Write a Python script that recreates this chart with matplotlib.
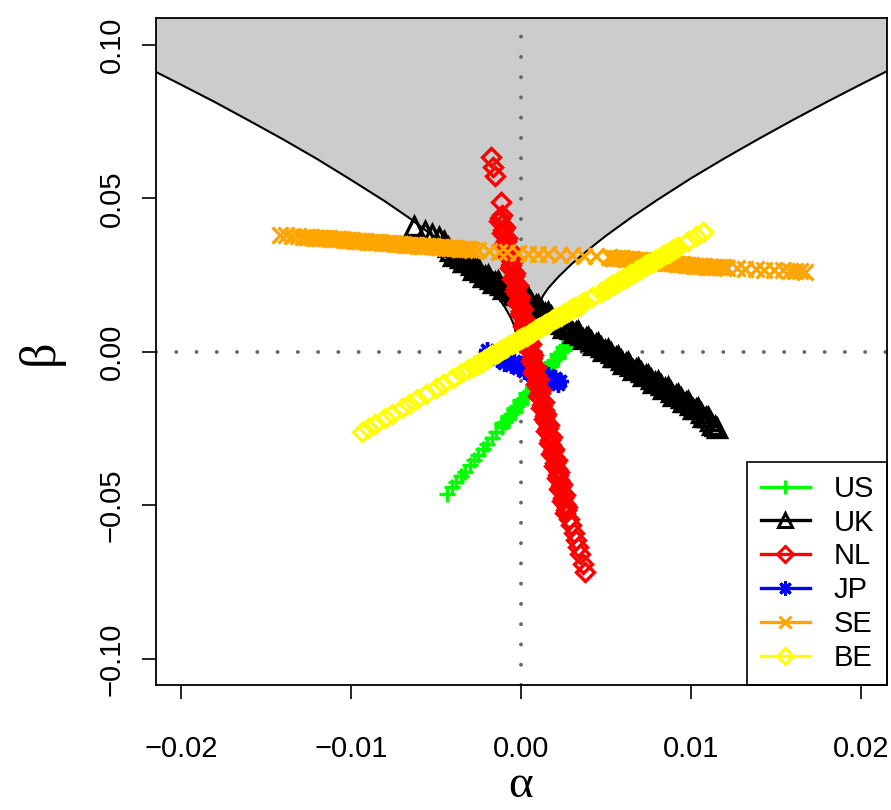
import matplotlib
matplotlib.use('Agg')
import matplotlib.pyplot as plt
from matplotlib.patches import Polygon
from matplotlib.lines import Line2D

# boundary of the shaded region (left and right branch)
left_a = [-0.0220, -0.0200, -0.0180, -0.0160, -0.0140, -0.0120, -0.0100, -0.0080, -0.0065, -0.0050,
          -0.0040, -0.0030, -0.0022, -0.0015, -0.0010, -0.0006, -0.0004, -0.0003]
left_b = [0.0926, 0.0870, 0.0813, 0.0753, 0.0692, 0.0628, 0.0560, 0.0490, 0.0433, 0.0370,
          0.0326, 0.0277, 0.0233, 0.0188, 0.0150, 0.0111, 0.0085, 0.0060]
right_a = [0.0011, 0.0013, 0.0016, 0.0022, 0.0030, 0.0040, 0.0050, 0.0065, 0.0080, 0.0100,
           0.0120, 0.0140, 0.0160, 0.0180, 0.0200, 0.0220]
right_b = [0.0160, 0.0183, 0.0207, 0.0244, 0.0287, 0.0334, 0.0378, 0.0438, 0.0494, 0.0565,
           0.0631, 0.0694, 0.0755, 0.0814, 0.0871, 0.0927]

# US
us_a = [-0.00435, -0.00403, -0.00381, -0.00352, -0.00331, -0.00302, -0.00276, -0.00251, -0.00222, -0.00200,
        -0.00171, -0.00145, -0.00110, -0.00113, -0.00074, -0.00077, -0.00038, -0.00041, -0.00002, -0.00004,
        0.00034, 0.00032, 0.00071, 0.00068, 0.00107, 0.00104, 0.00143, 0.00141, 0.00179, 0.00177,
        0.00216, 0.00213, 0.00252, 0.00249, 0.00282, 0.00280,
        -0.00112, -0.00094, -0.00076, -0.00058, -0.00040, -0.00022, -0.00003, 0.00015, 0.00033, 0.00052,
        0.00070, 0.00088, 0.00106, 0.00124, 0.00142, 0.00160, 0.00178, 0.00197, 0.00215, 0.00233,
        0.00251, 0.00267, 0.00281]
us_b = [-0.0462, -0.0440, -0.0425, -0.0405, -0.0390, -0.0370, -0.0352, -0.0335, -0.0315, -0.0300,
        -0.0280, -0.0262, -0.0245, -0.0233, -0.0220, -0.0208, -0.0195, -0.0183, -0.0170, -0.0158,
        -0.0145, -0.0133, -0.0120, -0.0108, -0.0095, -0.0083, -0.0070, -0.0058, -0.0045, -0.0033,
        -0.0020, -0.0008, 0.0005, 0.0017, 0.0028, 0.0036,
        -0.0239, -0.0227, -0.0214, -0.0202, -0.0189, -0.0177, -0.0164, -0.0152, -0.0139, -0.0127,
        -0.0114, -0.0102, -0.0089, -0.0077, -0.0064, -0.0052, -0.0039, -0.0027, -0.0014, -0.0002,
        0.0011, 0.0023, 0.0032]

# UK
uk_a = [-0.00630, -0.00565, -0.00525, -0.00485, -0.00455,
        -0.00429, -0.00400, -0.00371, -0.00341, -0.00312, -0.00282, -0.00253, -0.00224, -0.00194, -0.00165,
        -0.00135, -0.00106, -0.00076, -0.00047, -0.00018, 0.00012, 0.00041, 0.00071, 0.00100, 0.00129,
        0.00159, 0.00188, 0.00218, 0.00247, 0.00276, 0.00306, 0.00335, 0.00365, 0.00394, 0.00424,
        0.00453, 0.00482, 0.00512, 0.00541, 0.00571, 0.00600, 0.00629, 0.00659, 0.00688, 0.00718,
        0.00747, 0.00776, 0.00806, 0.00835, 0.00865, 0.00894, 0.00924, 0.00953, 0.00982, 0.01012,
        0.01041, 0.01071, 0.01100, 0.01124,
        0.01140, 0.01152,
        -0.00415, -0.00386, -0.00356, -0.00327, -0.00297, -0.00268, -0.00239, -0.00209, -0.00180, -0.00150,
        -0.00121, -0.00091, -0.00062, -0.00033, -0.00003, 0.00027, 0.00056, 0.00086, 0.00115, 0.00144,
        0.00174, 0.00203, 0.00233, 0.00262, 0.00291, 0.00321, 0.00350, 0.00380, 0.00409, 0.00439,
        0.00468, 0.00497, 0.00527, 0.00556, 0.00586, 0.00615, 0.00644, 0.00674, 0.00703, 0.00733,
        0.00762, 0.00791, 0.00821, 0.00850, 0.00880, 0.00909, 0.00939, 0.00968, 0.00997, 0.01027,
        0.01056, 0.01086, 0.01112]
uk_b = [0.0410, 0.0393, 0.0383, 0.0373, 0.0362,
        0.0340, 0.0313, 0.0318, 0.0291, 0.0296, 0.0268, 0.0273, 0.0245, 0.0250, 0.0223,
        0.0230, 0.0204, 0.0210, 0.0186, 0.0193, 0.0169, 0.0177, 0.0149, 0.0152, 0.0124,
        0.0128, 0.0101, 0.0105, 0.0078, 0.0085, 0.0060, 0.0067, 0.0041, 0.0048, 0.0022,
        0.0028, 0.0002, 0.0008, -0.0018, -0.0013, -0.0040, -0.0034, -0.0059, -0.0053, -0.0080,
        -0.0074, -0.0101, -0.0095, -0.0122, -0.0116, -0.0143, -0.0137, -0.0164, -0.0160, -0.0187,
        -0.0183, -0.0213, -0.0211, -0.0238,
        -0.0242, -0.0248,
        0.0327, 0.0316, 0.0305, 0.0294, 0.0282, 0.0271, 0.0259, 0.0248, 0.0237, 0.0227,
        0.0217, 0.0207, 0.0198, 0.0190, 0.0181, 0.0173, 0.0163, 0.0151, 0.0138, 0.0126,
        0.0115, 0.0103, 0.0092, 0.0082, 0.0073, 0.0064, 0.0054, 0.0045, 0.0035, 0.0025,
        0.0015, 0.0005, -0.0005, -0.0016, -0.0027, -0.0037, -0.0047, -0.0056, -0.0067, -0.0077,
        -0.0088, -0.0098, -0.0109, -0.0119, -0.0130, -0.0140, -0.0151, -0.0162, -0.0174, -0.0185,
        -0.0198, -0.0212, -0.0225]

# NL
nl_a = [-0.00176, -0.00163, -0.00153, -0.00120,
        -0.00113, -0.00129, -0.00097, -0.00114, -0.00082, -0.00098, -0.00066, -0.00083, -0.00051, -0.00067,
        -0.00036, -0.00052, -0.00020, -0.00037, -0.00005, -0.00021, 0.00010, -0.00006, 0.00026, 0.00009,
        0.00041, 0.00025, 0.00057, 0.00040, 0.00072, 0.00056, 0.00087, 0.00071, 0.00103, 0.00086,
        0.00118, 0.00102, 0.00134, 0.00117, 0.00149, 0.00133, 0.00164, 0.00148, 0.00180, 0.00163,
        0.00195, 0.00179, 0.00210, 0.00194, 0.00226, 0.00209, 0.00241, 0.00225, 0.00256, 0.00240,
        0.00272, 0.00256,
        0.00285, 0.00297, 0.00310, 0.00322, 0.00334, 0.00348, 0.00362, 0.00378,
        -0.00121, -0.00113, -0.00106, -0.00098, -0.00090, -0.00083, -0.00075, -0.00067, -0.00060, -0.00052,
        -0.00044, -0.00036, -0.00029, -0.00021, -0.00013, -0.00006, 0.00002, 0.00010, 0.00018, 0.00025,
        0.00033, 0.00041, 0.00048, 0.00056, 0.00064, 0.00071, 0.00079, 0.00087, 0.00094, 0.00102,
        0.00110, 0.00118, 0.00125, 0.00133, 0.00141, 0.00148, 0.00156, 0.00164, 0.00171, 0.00179,
        0.00187, 0.00195, 0.00202, 0.00210, 0.00218, 0.00225, 0.00233, 0.00241, 0.00248, 0.00256,
        0.00264]
nl_b = [0.0634, 0.0603, 0.0572, 0.0488,
        0.0445, 0.0426, 0.0407, 0.0388, 0.0369, 0.0350, 0.0331, 0.0312, 0.0293, 0.0274,
        0.0255, 0.0236, 0.0217, 0.0198, 0.0179, 0.0160, 0.0141, 0.0122, 0.0103, 0.0084,
        0.0065, 0.0046, 0.0027, 0.0008, -0.0011, -0.0030, -0.0049, -0.0068, -0.0087, -0.0106,
        -0.0125, -0.0144, -0.0163, -0.0182, -0.0201, -0.0220, -0.0239, -0.0258, -0.0277, -0.0296,
        -0.0315, -0.0334, -0.0353, -0.0372, -0.0391, -0.0410, -0.0429, -0.0448, -0.0467, -0.0486,
        -0.0505, -0.0524,
        -0.0545, -0.0565, -0.0590, -0.0612, -0.0635, -0.0660, -0.0690, -0.0718,
        0.0436, 0.0417, 0.0398, 0.0379, 0.0360, 0.0341, 0.0322, 0.0303, 0.0284, 0.0265,
        0.0246, 0.0227, 0.0208, 0.0189, 0.0170, 0.0151, 0.0132, 0.0113, 0.0094, 0.0075,
        0.0056, 0.0037, 0.0018, -0.0001, -0.0020, -0.0039, -0.0058, -0.0077, -0.0096, -0.0115,
        -0.0134, -0.0153, -0.0172, -0.0191, -0.0210, -0.0229, -0.0248, -0.0267, -0.0286, -0.0305,
        -0.0324, -0.0343, -0.0362, -0.0381, -0.0400, -0.0419, -0.0438, -0.0457, -0.0476, -0.0495,
        -0.0514]

# JP
jp_a = [-0.0020, -0.0018, -0.0016, -0.0014, -0.0012, -0.0010, -0.0008, -0.0006, -0.0004, -0.0002,
        0.0000, 0.0002, 0.0004, 0.0006, 0.0008, 0.0010, 0.0012, 0.0014, 0.0016, 0.0018,
        0.0020, 0.0022, 0.0023,
        -0.0019, -0.0017, -0.0015, -0.0013, -0.0011, -0.0009, -0.0007, -0.0005, -0.0003, -0.0001,
        0.0001, 0.0003, 0.0005, 0.0007, 0.0009, 0.0011, 0.0013, 0.0015, 0.0017, 0.0019, 0.0021]
jp_b = [0.0007, -0.0015, -0.0003, -0.0025, -0.0012, -0.0035, -0.0022, -0.0043, -0.0030, -0.0052,
        -0.0040, -0.0061, -0.0050, -0.0071, -0.0059, -0.0080, -0.0067, -0.0089, -0.0077, -0.0098,
        -0.0086, -0.0104, -0.0095,
        -0.0005, -0.0010, -0.0014, -0.0019, -0.0023, -0.0028, -0.0033, -0.0037, -0.0042, -0.0046,
        -0.0051, -0.0055, -0.0060, -0.0065, -0.0069, -0.0074, -0.0078, -0.0083, -0.0087, -0.0092, -0.0096]

# SE
se_a = [-0.01418, -0.01385, -0.01345, -0.01310,
        -0.01280, -0.01250, -0.01220, -0.01190, -0.01160, -0.01130, -0.01100, -0.01070, -0.01040, -0.01010,
        -0.00980, -0.00950, -0.00920, -0.00890, -0.00860, -0.00830, -0.00800, -0.00770, -0.00740, -0.00710,
        -0.00680, -0.00650, -0.00620, -0.00590, -0.00560, -0.00530, -0.00500, -0.00470, -0.00440, -0.00410,
        -0.00380, -0.00350, -0.00320, -0.00290,
        -0.00250, -0.00190, -0.00130, -0.00080, -0.00020, 0.00040, 0.00100, 0.00160, 0.00230, 0.00300,
        0.00370, 0.00440,
        0.00520, 0.00550, 0.00580, 0.00610, 0.00640, 0.00670, 0.00700, 0.00730, 0.00760, 0.00790,
        0.00820, 0.00850, 0.00880, 0.00910, 0.00940, 0.00970, 0.01000, 0.01030, 0.01060, 0.01090,
        0.01120, 0.01150, 0.01180, 0.01210,
        0.01270, 0.01320, 0.01380, 0.01430, 0.01490, 0.01540,
        0.01580, 0.01610, 0.01640, 0.01670,
        -0.01265, -0.01235, -0.01205, -0.01175, -0.01145, -0.01115, -0.01085, -0.01055, -0.01025, -0.00995,
        -0.00965, -0.00935, -0.00905, -0.00875, -0.00845, -0.00815, -0.00785, -0.00755, -0.00725, -0.00695,
        -0.00665, -0.00635, -0.00605, -0.00575, -0.00545, -0.00515, -0.00485, -0.00455, -0.00425, -0.00395,
        -0.00365, -0.00335, -0.00305,
        0.00535, 0.00565, 0.00595, 0.00625, 0.00655, 0.00685, 0.00715, 0.00745, 0.00775, 0.00805,
        0.00835, 0.00865, 0.00895, 0.00925, 0.00955, 0.00985, 0.01015, 0.01045, 0.01075, 0.01105,
        0.01135, 0.01165, 0.01195]
se_b = [0.0381, 0.0380, 0.0377, 0.0376,
        0.0375, 0.0374, 0.0372, 0.0371, 0.0370, 0.0369, 0.0367, 0.0366, 0.0365, 0.0363,
        0.0362, 0.0361, 0.0360, 0.0358, 0.0357, 0.0356, 0.0354, 0.0353, 0.0352, 0.0350,
        0.0349, 0.0348, 0.0347, 0.0345, 0.0344, 0.0343, 0.0342, 0.0340, 0.0339, 0.0338,
        0.0337, 0.0335, 0.0334, 0.0333,
        0.0331, 0.0329, 0.0326, 0.0324, 0.0322, 0.0320, 0.0319, 0.0318, 0.0316, 0.0314,
        0.0313, 0.0311,
        0.0308, 0.0306, 0.0305, 0.0303, 0.0301, 0.0300, 0.0298, 0.0297, 0.0295, 0.0293,
        0.0292, 0.0290, 0.0288, 0.0287, 0.0285, 0.0284, 0.0282, 0.0280, 0.0279, 0.0277,
        0.0276, 0.0276, 0.0275, 0.0274,
        0.0272, 0.0271, 0.0269, 0.0268, 0.0266, 0.0265,
        0.0264, 0.0263, 0.0262, 0.0261,
        0.0375, 0.0373, 0.0372, 0.0371, 0.0370, 0.0368, 0.0367, 0.0366, 0.0364, 0.0363,
        0.0362, 0.0361, 0.0359, 0.0358, 0.0357, 0.0355, 0.0354, 0.0353, 0.0351, 0.0350,
        0.0349, 0.0348, 0.0346, 0.0345, 0.0344, 0.0343, 0.0341, 0.0340, 0.0339, 0.0338,
        0.0336, 0.0335, 0.0334,
        0.0307, 0.0306, 0.0304, 0.0302, 0.0301, 0.0299, 0.0298, 0.0296, 0.0294, 0.0293,
        0.0291, 0.0289, 0.0288, 0.0286, 0.0285, 0.0283, 0.0281, 0.0280, 0.0278, 0.0277,
        0.0276, 0.0276, 0.0275]

# BE
be_a = [-0.00935, -0.00900, -0.00860, -0.00800, -0.00760, -0.00700, -0.00660, -0.00610, -0.00560, -0.00500,
        -0.00460, -0.00400, -0.00350, -0.00310,
        -0.00280, -0.00255, -0.00230, -0.00205, -0.00180, -0.00155, -0.00130, -0.00105, -0.00080, -0.00055,
        -0.00030, -0.00005, 0.00020, 0.00045, 0.00070, 0.00095, 0.00120, 0.00145, 0.00170, 0.00195,
        0.00220, 0.00245, 0.00270, 0.00295, 0.00320, 0.00345, 0.00370,
        0.00420, 0.00470,
        0.00500, 0.00525, 0.00550, 0.00575, 0.00600, 0.00625, 0.00650, 0.00675, 0.00700, 0.00725,
        0.00750, 0.00775, 0.00800, 0.00825, 0.00850, 0.00875, 0.00900, 0.00925,
        0.00980, 0.01030, 0.01070,
        -0.00268, -0.00243, -0.00218, -0.00193, -0.00168, -0.00143, -0.00118, -0.00093, -0.00068, -0.00043,
        -0.00018, 0.00008, 0.00033, 0.00058, 0.00083, 0.00108, 0.00133, 0.00158, 0.00183, 0.00208,
        0.00233, 0.00258, 0.00283, 0.00308, 0.00333, 0.00358,
        0.00513, 0.00538, 0.00563, 0.00588, 0.00613, 0.00638, 0.00663, 0.00688, 0.00713, 0.00738,
        0.00763, 0.00788, 0.00813, 0.00838, 0.00863, 0.00888, 0.00913]
be_b = [-0.0260, -0.0249, -0.0236, -0.0216, -0.0203, -0.0184, -0.0171, -0.0155, -0.0138, -0.0119,
        -0.0106, -0.0086, -0.0070, -0.0057,
        -0.0048, -0.0040, -0.0032, -0.0024, -0.0015, -0.0007, 0.0001, 0.0009, 0.0017, 0.0025,
        0.0033, 0.0041, 0.0049, 0.0057, 0.0066, 0.0074, 0.0082, 0.0090, 0.0098, 0.0106,
        0.0114, 0.0122, 0.0130, 0.0138, 0.0146, 0.0154, 0.0163,
        0.0179, 0.0195,
        0.0205, 0.0213, 0.0221, 0.0229, 0.0237, 0.0245, 0.0253, 0.0262, 0.0270, 0.0278,
        0.0286, 0.0294, 0.0302, 0.0310, 0.0318, 0.0326, 0.0334, 0.0342,
        0.0360, 0.0376, 0.0389,
        -0.0044, -0.0036, -0.0028, -0.0020, -0.0011, -0.0003, 0.0005, 0.0013, 0.0021, 0.0029,
        0.0037, 0.0045, 0.0053, 0.0062, 0.0070, 0.0078, 0.0086, 0.0094, 0.0102, 0.0110,
        0.0118, 0.0126, 0.0134, 0.0142, 0.0150, 0.0158,
        0.0209, 0.0217, 0.0225, 0.0233, 0.0241, 0.0249, 0.0257, 0.0266, 0.0274, 0.0282,
        0.0290, 0.0298, 0.0306, 0.0314, 0.0322, 0.0330, 0.0338]

x_ticks = [-0.02, -0.01, 0.0, 0.01, 0.02]
x_labels = ['\u22120.02', '\u22120.01', '0.00', '0.01', '0.02']
y_ticks = [-0.10, -0.05, 0.0, 0.05, 0.10]
y_labels = ['\u22120.10', '\u22120.05', '0.00', '0.05', '0.10']

plt.rcParams['font.family'] = ['Liberation Sans', 'DejaVu Sans']

fig = plt.figure(figsize=(8.91, 8.10), dpi=100)
ax = fig.add_axes([156 / 891, 125 / 810, 731 / 891, 667 / 810])

# shaded region above the boundary
poly = list(zip([-0.022] + left_a + right_a + [0.022], [0.2] + left_b + right_b + [0.2]))
ax.add_patch(Polygon(poly, closed=True, fc='#CCCCCC', ec='none', zorder=0))
ax.plot(left_a, left_b, color='black', lw=1.5, zorder=1)
ax.plot(right_a, right_b, color='black', lw=1.5, zorder=1)

dots = dict(color='#666666', lw=2.8, ls=(0, (0.01, 5.2)), dash_capstyle='round', zorder=2)
ax.axhline(0, **dots)
ax.axvline(0, **dots)

# name, alpha, beta, colour, marker, size
series = [
    ('US', us_a, us_b, '#00FF00', '+', 12),
    ('UK', uk_a, uk_b, 'black', '^', 12.5),
    ('NL', nl_a, nl_b, 'red', 'D', 9.5),
    ('JP', jp_a, jp_b, 'blue', (8, 2, 0), 12),
    ('SE', se_a, se_b, '#FFA500', 'x', 11),
    ('BE', be_a, be_b, '#FFFF00', 'D', 9.5),
]
draw_order = ['US', 'JP', 'UK', 'NL', 'SE', 'BE']
handles = []
for name, a, b, col, mk, ms in series:
    z = 3 + draw_order.index(name)
    ax.plot(a, b, ls='none', marker=mk, ms=ms, mfc='none', mec=col, mew=2.4, zorder=z)
    handles.append(Line2D([], [], color=col, lw=2.4, marker=mk, ms=ms * 0.85, mfc='none', mec=col, mew=2.2))

leg = ax.legend(handles, [s[0] for s in series], loc='lower right', bbox_to_anchor=(1.0, 0.0),
                borderaxespad=0, fancybox=False, framealpha=1, edgecolor='black', fontsize=21,
                handlelength=1.7, handletextpad=0.8, labelspacing=0.2, borderpad=0.45)
leg.get_frame().set_linewidth(1.2)
leg.set_zorder(20)

ax.set_xlim(-0.02147, 0.02153)
ax.set_ylim(-0.1085, 0.1087)
ax.set_xticks(x_ticks)
ax.set_xticklabels(x_labels)
ax.set_yticks(y_ticks)
ax.set_yticklabels(y_labels, rotation=90, va='center')
ax.tick_params(length=10, width=1.2, labelsize=21, color='black')
ax.tick_params(axis='x', pad=26)
ax.tick_params(axis='y', pad=12)
for s in ax.spines.values():
    s.set_linewidth(1.3)
    s.set_zorder(25)

fig.text(521 / 891, 1 - 797 / 810, '\u03b1', ha='center', va='baseline', fontsize=34, family='Liberation Serif')
fig.text(40 / 891, 1 - 352 / 810, '\u03b2', ha='center', va='center', fontsize=36, rotation=90,
         family='Liberation Serif')

fig.savefig('out.png', dpi=100)
